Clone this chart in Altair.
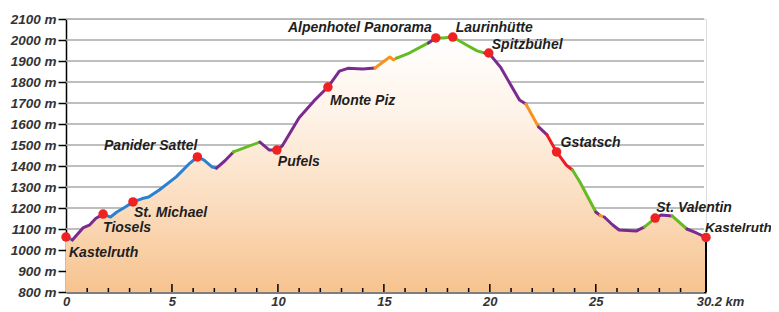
import altair as alt
import pandas as pd

# ---- profile data (distance in km, elevation in m) ----
km = [0.0, 0.3, 0.8, 1.1, 1.4, 1.75, 2.1, 2.4, 2.8, 3.16, 3.6, 3.9, 4.4, 5.2, 5.85,
      6.2, 6.5, 6.9, 7.1, 7.5, 7.9, 9.15, 9.6, 9.95, 10.2, 11.0, 11.7, 12.36, 12.9,
      13.3, 14.0, 14.58, 15.28, 15.45, 15.6, 16.2, 17.1, 17.45, 17.8, 18.25, 18.9,
      19.4, 19.76, 19.95, 20.5, 21.4, 21.7, 22.3, 22.7, 23.15, 23.6, 23.9, 24.25,
      25.0, 25.2, 25.4, 25.8, 26.1, 26.9, 27.3, 27.8, 28.1, 28.6, 29.3, 29.75, 30.2]
elev = [1062, 1048, 1105, 1118, 1150, 1171, 1157, 1181, 1205, 1229, 1245, 1252, 1286,
        1348, 1414, 1443, 1429, 1395, 1390, 1425, 1467, 1514, 1476, 1476, 1495, 1630,
        1710, 1776, 1852, 1865, 1862, 1867, 1919, 1905, 1914, 1938, 1986, 2010, 2010,
        2014, 1976, 1948, 1938, 1938, 1871, 1714, 1695, 1586, 1548, 1467, 1405, 1381,
        1324, 1181, 1165, 1157, 1119, 1095, 1090, 1110, 1152, 1167, 1162, 1100, 1081,
        1060]
# colour category of the segment starting at each point
seg_color = ["blue", "purple", "purple", "purple", "purple", "blue", "blue", "blue",
             "blue", "blue", "blue", "blue", "blue", "blue", "blue", "blue", "blue",
             "blue", "purple", "purple", "green", "purple", "purple", "purple",
             "purple", "purple", "purple", "purple", "purple", "purple", "purple",
             "orange", "orange", "orange", "green", "green", "purple", "green",
             "green", "green", "green", "green", "purple", "purple", "purple",
             "purple", "orange", "purple", "red", "red", "red", "green", "green",
             "purple", "orange", "purple", "purple", "purple", "purple", "green",
             "purple", "purple", "green", "purple", "purple"]

# ---- named stops ----
stop_names = ["Kastelruth", "Tiosels", "St. Michael", "Panider Sattel", "Pufels",
              "Monte Piz", "Alpenhotel Panorama", "Laurinhütte", "Spitzbühel",
              "Gstatsch", "St. Valentin", "Kastelruth "]
stop_km = [0.0, 1.75, 3.16, 6.2, 9.95, 12.36, 17.45, 18.25, 19.95, 23.15, 27.8, 30.2]
stop_elev = [1062, 1171, 1229, 1443, 1476, 1776, 2010, 2014, 1938, 1467, 1152, 1060]

# ---- axis ticks ----
y_ticks = list(range(800, 2101, 100))
x_labels = [0, 5, 10, 15, 20, 25, 30.2]
x_minor = [k for k in range(1, 30) if k % 5 != 0]
x_major = [5, 10, 15, 20, 25, 30.2]

# ---- styling (not data) ----
palette = {"purple": "#7B2A8E", "blue": "#2B80CF", "green": "#66BB22",
           "orange": "#F7931E", "red": "#EE1C24"}
label_layout = [("left", 3, 16, 14), ("left", 0, 14, 14), ("left", 1, 11, 14),
                ("right", 0, -11, 14), ("left", 1, 12, 14), ("left", 2, 14, 14),
                ("right", -4, -10, 14), ("left", 3, -9, 14), ("left", 3, -8, 14),
                ("left", 4, -9, 14), ("left", 1, -10, 14), ("left", -1, -9, 13.5)]

W, H = 640, 273
XMAX = 30.2
FONT = "Liberation Sans"

profile = pd.DataFrame({"km": km, "elev": elev})

# build coloured line runs
rows = []
run = 0
for i in range(len(km) - 1):
    if i > 0 and seg_color[i] != seg_color[i - 1]:
        run += 1
        rows.append({"run": run, "km": km[i], "elev": elev[i], "c": seg_color[i], "o": i})
    elif i == 0:
        rows.append({"run": run, "km": km[i], "elev": elev[i], "c": seg_color[i], "o": i})
    rows.append({"run": run, "km": km[i + 1], "elev": elev[i + 1], "c": seg_color[i], "o": i + 1})
segs = pd.DataFrame(rows)

stops = pd.DataFrame({"name": stop_names, "km": stop_km, "elev": stop_elev})
grid_df = pd.DataFrame({"elev": y_ticks})

xs = alt.Scale(domain=[0, XMAX], nice=False, zero=False)
ys = alt.Scale(domain=[800, 2100], nice=False, zero=False)

grid = alt.Chart(grid_df).mark_rule(color="#A8A8A8", strokeWidth=1.5).encode(
    y=alt.Y("elev:Q", scale=ys, axis=alt.Axis(
        values=y_ticks, tickCount=len(y_ticks), title=None,
        labelExpr="datum.value + ' m'", grid=False,
        domainColor="#000000", domainWidth=1.5,
        tickColor="#000000", tickSize=8, tickWidth=1.5,
        labelFont=FONT, labelFontSize=13.5, labelFontStyle="italic",
        labelFontWeight="bold", labelColor="#333333", labelPadding=2,
        labelOverlap=False, labelFlush=False)),
    x=alt.value(0), x2=alt.value(W - 2),
)

area = alt.Chart(profile).mark_area(
    color=alt.Gradient(
        gradient="linear",
        stops=[alt.GradientStop(color="#FFFFFF", offset=0),
               alt.GradientStop(color="#FEF3E8", offset=0.3),
               alt.GradientStop(color="#FBDDBF", offset=0.65),
               alt.GradientStop(color="#F7C38F", offset=1)],
        x1=1, x2=1, y1=0, y2=1),
    opacity=1,
).encode(
    x=alt.X("km:Q", scale=xs, axis=alt.Axis(
        values=x_labels, title=None, ticks=False, grid=False,
        labelExpr="datum.value == 30.2 ? '30.2 km' : datum.label",
        labelOffset={"condition": {"test": "datum.value == 30.2", "value": 14}, "value": 0},
        domainColor="#000000", domainWidth=2,
        labelFont=FONT, labelFontSize=13, labelFontStyle="italic",
        labelFontWeight="bold", labelColor="#333333", labelPadding=3,
        labelFlush=False, labelOverlap=False)),
    y=alt.Y("elev:Q", scale=ys),
    y2=alt.datum(800),
)

line = alt.Chart(segs).mark_line(strokeWidth=3, strokeCap="round", strokeJoin="round").encode(
    x=alt.X("km:Q", scale=xs),
    y=alt.Y("elev:Q", scale=ys),
    detail="run:N",
    order="o:Q",
    color=alt.Color("c:N", scale=alt.Scale(domain=list(palette.keys()),
                                           range=list(palette.values())), legend=None),
)

end_rule = alt.Chart(pd.DataFrame({"km": [km[-1]], "elev": [elev[-1]]})).mark_rule(
    color="#000000", strokeWidth=2).encode(
    x=alt.X("km:Q", scale=xs), y=alt.Y("elev:Q", scale=ys), y2=alt.datum(800))

minor = alt.Chart(pd.DataFrame({"km": x_minor})).mark_rule(color="#000000", strokeWidth=1.5).encode(
    x=alt.X("km:Q", scale=xs), y=alt.value(H), y2=alt.value(H - 4))
major = alt.Chart(pd.DataFrame({"km": x_major})).mark_rule(color="#000000", strokeWidth=1.5).encode(
    x=alt.X("km:Q", scale=xs), y=alt.value(H), y2=alt.value(H - 8))

dots = alt.Chart(stops).mark_circle(size=90, color="#EE2222", opacity=1).encode(
    x=alt.X("km:Q", scale=xs), y=alt.Y("elev:Q", scale=ys))

texts = []
for name, (al, dx, dy, fs) in zip(stop_names, label_layout):
    texts.append(alt.Chart(stops).transform_filter(alt.datum.name == name).mark_text(
        align=al, baseline="middle", dx=dx, dy=dy, font=FONT, fontSize=fs,
        fontStyle="italic", fontWeight="bold", color="#1E1E1E").encode(
        x=alt.X("km:Q", scale=xs), y=alt.Y("elev:Q", scale=ys), text="name:N"))

chart = alt.layer(grid, area, end_rule, line, minor, major, dots, *texts).properties(
    width=W, height=H,
    autosize=alt.AutoSizeParams(type="none"),
    padding={"left": 58, "top": 11, "right": 65, "bottom": 20},
).configure_view(stroke=None).configure(background="#FFFFFF")

chart.save("out.html", embed_options={"renderer": "svg", "actions": False})
